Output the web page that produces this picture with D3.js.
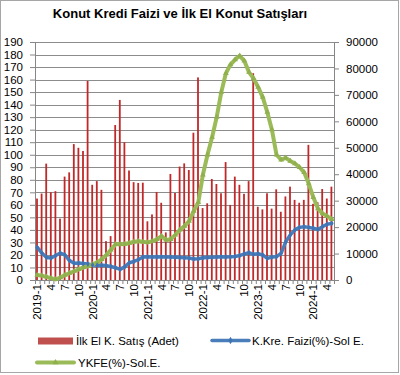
<!DOCTYPE html>
<html>
<head>
<meta charset="utf-8">
<script src="https://cdn.jsdelivr.net/npm/d3@7.9.0/dist/d3.min.js"></script>
<style>
  body { margin: 0; background: #fff; }
  text { font-family: "Liberation Sans", Arial, sans-serif; fill: #000; }
</style>
</head>
<body>
<div id="chart"></div>
<script>
// months 2019-1 .. 2024-5
const months = [];
for (let y = 2019; y <= 2024; y++) {
  for (let m = 1; m <= 12; m++) {
    if (y === 2024 && m > 5) break;
    months.push(`${y}-${m}`);
  }
}

// İlk el konut satışı (adet) - right axis
const sales = [
  30800, 32700, 44000, 33200, 33600, 23200, 39100, 40700, 51400, 50000, 48800, 75300,
  36000, 37400, 34100, 14700, 16600, 58600, 68100, 52100, 41400, 37000, 36700, 36800,
  22200, 24800, 33300, 29200, 18000, 40100, 32900, 42900, 44100, 41600, 55700, 76600,
  27200, 29000, 38200, 36300, 32800, 44600, 28400, 39100, 36000, 32600, 37400, 78200,
  27700, 26700, 32800, 27000, 34300, 25800, 31600, 35300, 30300, 29200, 30300, 51100,
  28800, 29400, 34400, 30800, 35300
];

// konut kredisi faizi (%) - left axis
const rate = [
  26, 21.5, 18, 17.5, 19.5, 21.5, 20, 15.5, 13.3, 13.5, 13.2, 12.8,
  12, 11.8, 11.7, 11.5, 10.8, 9.8, 8.5, 10.5, 13.8, 14.8, 16.3, 18.3,
  18.5, 18.3, 18.4, 18.5, 18.3, 18.3, 18.2, 18, 17.8, 17.5, 16.8, 17,
  17.8, 18, 18.2, 18.3, 18.5, 18.4, 18.5, 18.8, 19.5, 20.8, 21.8, 20.5,
  21, 20, 17.3, 18.3, 18.6, 21.3, 30.5, 36, 40, 42, 42.5, 42,
  41.3, 40.4, 42.6, 44.5, 45.2
];

// YKFE (%) - left axis
const ykfe = [
  4, 3.5, 2.5, 1.5, 0.5, 2, 4, 5.5, 7, 8.5, 10, 11,
  12.5, 14, 16.5, 20, 24, 28.5, 28.5, 28.7, 29.5, 30.5, 31, 30.5,
  30, 31, 32.5, 35, 32, 32.5, 36, 40, 43, 47, 55, 62,
  84, 100, 114, 130, 150, 165, 172, 176, 179, 175, 166, 161,
  154, 146, 134, 120, 100, 96, 97.5, 95, 93, 90, 86, 77,
  66, 57, 53, 51, 48.5
];

const leftTicks = d3.range(0, 191, 10);
const rightTicks = d3.range(0, 90001, 10000);

const width = 400, height = 375;
const margin = { top: 42, right: 66, bottom: 95, left: 35 };
const plotW = width - margin.left - margin.right;
const plotH = height - margin.top - margin.bottom;

const svg = d3.select('#chart').append('svg')
  .attr('width', width)
  .attr('height', height);

// outer border
svg.append('rect')
  .attr('x', 0.5).attr('y', 0.5)
  .attr('width', 398).attr('height', 372)
  .attr('fill', '#fff')
  .attr('stroke', '#a6a6a6');

svg.append('text')
  .attr('x', 180)
  .attr('y', 18)
  .attr('text-anchor', 'middle')
  .style('font-family', '"Liberation Sans Narrow", "Liberation Sans", Arial, sans-serif')
  .style('font-weight', 'bold')
  .style('font-size', '13px')
  .text('Konut Kredi Faizi ve İlk El Konut Satışları');

const g = svg.append('g').attr('transform', `translate(${margin.left},${margin.top})`);

const x = d3.scaleBand().domain(months).range([0, plotW]);
const xEdge = d3.scaleLinear().domain([0, months.length]).range([0, plotW]);
const yL = d3.scaleLinear().domain([0, 190]).range([plotH, 0]);
const yR = d3.scaleLinear().domain([0, 90000]).range([plotH, 0]);

// gridlines
g.append('g')
  .selectAll('line')
  .data(leftTicks.slice(1))
  .join('line')
  .attr('x1', 0).attr('x2', plotW)
  .attr('y1', d => Math.round(yL(d)) + 0.5)
  .attr('y2', d => Math.round(yL(d)) + 0.5)
  .attr('stroke', '#8c8c8c')
  .attr('stroke-width', 1);

// bars
const barW = 1.8;
g.append('g')
  .selectAll('rect')
  .data(sales)
  .join('rect')
  .attr('x', (d, i) => x(months[i]) + x.bandwidth() / 2 - barW / 2 - 0.3)
  .attr('y', d => yR(d))
  .attr('width', barW)
  .attr('height', d => plotH - yR(d))
  .attr('fill', '#c0282a');

// left axis
const axL = g.append('g')
  .call(d3.axisLeft(yL).tickValues(leftTicks).tickSize(5).tickPadding(7).tickSizeOuter(0));
// right axis
const axR = g.append('g')
  .attr('transform', `translate(${plotW},0)`)
  .call(d3.axisRight(yR).tickValues(rightTicks).tickFormat(d3.format('d'))
    .tickSize(5).tickPadding(7).tickSizeOuter(0));
// bottom axis: boundary ticks
const axB = g.append('g')
  .attr('transform', `translate(0,${plotH})`)
  .call(d3.axisBottom(xEdge).tickValues(d3.range(0, months.length + 1)).tickSize(4).tickFormat('').tickSizeOuter(0));
// bottom labels
const labelMonths = months.filter(m => [1, 4, 7, 10].includes(+m.split('-')[1]));
const axBL = g.append('g')
  .attr('transform', `translate(0,${plotH})`)
  .call(d3.axisBottom(x).tickValues(labelMonths)
    .tickFormat(d => d.endsWith('-1') ? d : d.split('-')[1])
    .tickSize(0).tickPadding(0));
axBL.select('.domain').remove();
axBL.selectAll('text')
  .attr('transform', 'rotate(-90)')
  .attr('text-anchor', 'end')
  .attr('x', -4)
  .attr('y', 0)
  .attr('dy', '0.35em');

[axL, axR, axB].forEach(a => {
  a.select('.domain').attr('stroke', '#868686');
  a.selectAll('.tick line').attr('stroke', '#868686');
});
[axL, axR, axBL].forEach(a => {
  a.selectAll('text').style('font-size', '11.5px').style('font-family', '"Liberation Sans", Arial, sans-serif').attr('fill', '#000');
});

// lines
const line = yScale => d3.line()
  .x((d, i) => x(months[i]) + x.bandwidth() / 2)
  .y(d => yScale(d));

g.append('path')
  .datum(rate)
  .attr('fill', 'none')
  .attr('stroke', '#4a7ebb')
  .attr('stroke-width', 3.5)
  .attr('stroke-linejoin', 'round')
  .attr('stroke-linecap', 'round')
  .attr('d', line(yL));

g.append('path')
  .datum(ykfe)
  .attr('fill', 'none')
  .attr('stroke', '#9bbb59')
  .attr('stroke-width', 4)
  .attr('stroke-linejoin', 'round')
  .attr('stroke-linecap', 'round')
  .attr('d', line(yL));

// small markers
g.append('g')
  .selectAll('path')
  .data(ykfe)
  .join('path')
  .attr('transform', (d, i) => `translate(${x(months[i]) + x.bandwidth() / 2},${yL(d)})`)
  .attr('d', d3.symbol(d3.symbolTriangle, 14))
  .attr('fill', '#8fb04d');
g.append('g')
  .selectAll('path')
  .data(rate)
  .join('path')
  .attr('transform', (d, i) => `translate(${x(months[i]) + x.bandwidth() / 2},${yL(d)})`)
  .attr('d', d3.symbol(d3.symbolDiamond, 10))
  .attr('fill', '#3f74b4');

// legend
const leg = svg.append('g').style('font-size', '11.5px');
leg.append('rect')
  .attr('x', 38).attr('y', 337.5)
  .attr('width', 35).attr('height', 7)
  .attr('fill', '#c0504d');
leg.append('text').attr('x', 76).attr('y', 341).attr('dy', '0.35em').text('İlk El K. Satış (Adet)');

leg.append('line')
  .attr('x1', 212).attr('x2', 249).attr('y1', 340.5).attr('y2', 340.5)
  .attr('stroke', '#4a7ebb').attr('stroke-width', 3.5).attr('stroke-linecap', 'round');
leg.append('path')
  .attr('transform', 'translate(230.5,340.5)')
  .attr('d', d3.symbol(d3.symbolDiamond, 16))
  .attr('fill', '#3f74b4');
leg.append('text').attr('x', 252).attr('y', 341).attr('dy', '0.35em').text('K.Kre. Faizi(%)-Sol E.');

leg.append('line')
  .attr('x1', 37).attr('x2', 74).attr('y1', 362.5).attr('y2', 362.5)
  .attr('stroke', '#9bbb59').attr('stroke-width', 4).attr('stroke-linecap', 'round');
leg.append('path')
  .attr('transform', 'translate(55.5,362.5)')
  .attr('d', d3.symbol(d3.symbolTriangle, 16))
  .attr('fill', '#8fb04d');
leg.append('text').attr('x', 78).attr('y', 362.5).attr('dy', '0.35em').text('YKFE(%)-Sol.E.');
</script>
</body>
</html>
